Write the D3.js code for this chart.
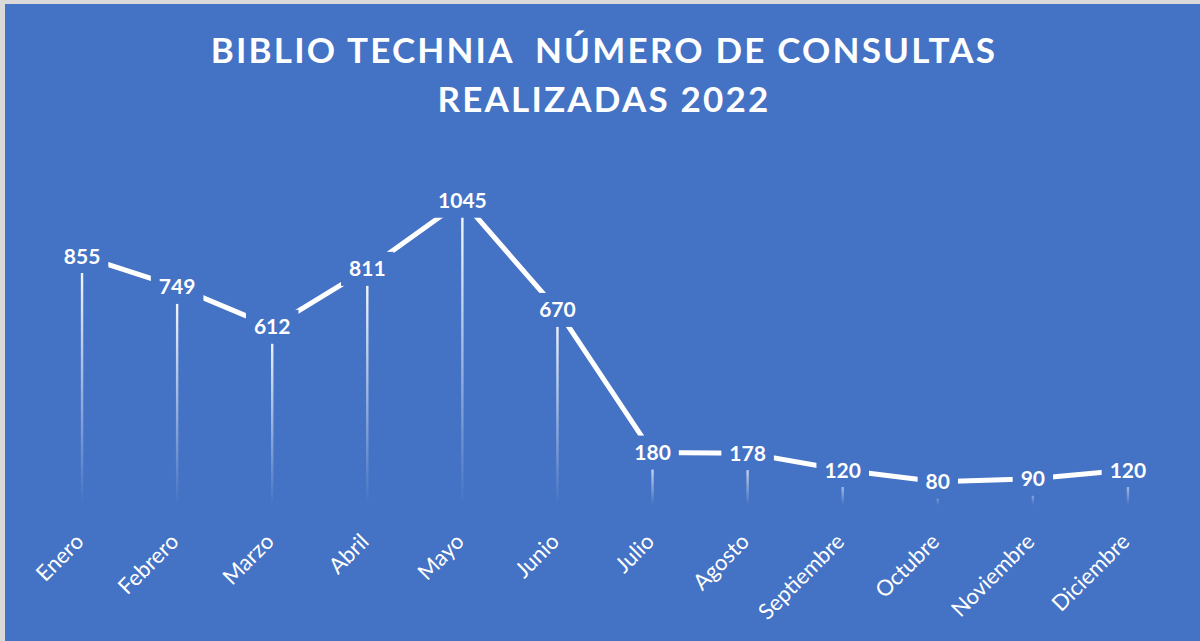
<!DOCTYPE html>
<html lang="es">
<head>
<meta charset="UTF-8">
<title>Biblio Technia consultas 2022</title>
<script src="https://cdn.jsdelivr.net/npm/d3@7"></script>
<style>
  body { margin: 0; background: #d9d9d9; }
  svg { display: block; }
</style>
</head>
<body>
<div id="chart"></div>
<script>
// datos
const months = ["Enero", "Febrero", "Marzo", "Abril", "Mayo", "Junio",
  "Julio", "Agosto", "Septiembre", "Octubre", "Noviembre", "Diciembre"];
const consultas = [855, 749, 612, 811, 1045, 670, 180, 178, 120, 80, 90, 120];
const titleLines = ["BIBLIO TECHNIA  NÚMERO DE CONSULTAS", "REALIZADAS 2022"];

const W = 1200, H = 641;
const bg = "#4472C4";
const font = "Lato, 'Open Sans', sans-serif";

const svg = d3.select("#chart").append("svg")
  .attr("width", W).attr("height", H);

// chart area with light border on the left/top
svg.append("rect").attr("x", 0).attr("y", 0).attr("width", W).attr("height", H)
  .attr("fill", "#d9d9d9");
svg.append("rect").attr("x", 5).attr("y", 4).attr("width", W - 5).attr("height", H - 4)
  .attr("fill", bg);

// title
svg.append("text")
  .attr("x", 604).attr("text-anchor", "middle")
  .attr("fill", "#fff")
  .style("font-family", font).style("font-weight", "bold")
  .style("font-size", "35px").style("letter-spacing", "2.2px")
  .style("white-space", "pre")
  .selectAll("tspan").data(titleLines).join("tspan")
  .attr("x", 604).attr("y", (d, i) => 63 + i * 49)
  .text(d => d);

const x = d3.scaleBand().domain(months).range([34.5, 1175.5]);
const y = d3.scaleLinear().domain([0, 1200]).range([505, 155.6]);
const cx = d => x(d) + x.bandwidth() / 2;

const data = months.map((m, i) => ({ m, v: consultas[i] }));

// gradient for drop lines
const grad = svg.append("defs").append("linearGradient")
  .attr("id", "drop").attr("x1", 0).attr("y1", 0).attr("x2", 0).attr("y2", 1)
  .attr("gradientUnits", "objectBoundingBox");
grad.append("stop").attr("offset", "0%").attr("stop-color", "#fff").attr("stop-opacity", 1);
grad.append("stop").attr("offset", "100%").attr("stop-color", "#fff").attr("stop-opacity", 0);

// drop lines (thin rects so the gradient works on vertical lines)
svg.append("g").selectAll("rect").data(data).join("rect")
  .attr("x", d => cx(d.m) - 1.2)
  .attr("y", d => y(d.v))
  .attr("width", 2.4)
  .attr("height", d => y(0) - y(d.v))
  .attr("fill", "url(#drop)");

// line
svg.append("path").datum(data)
  .attr("fill", "none").attr("stroke", "#fff").attr("stroke-width", 5)
  .attr("stroke-linejoin", "round")
  .attr("d", d3.line().x(d => cx(d.m)).y(d => y(d.v)));

// value labels with background box
const lab = svg.append("g").selectAll("g").data(data).join("g")
  .attr("transform", d => `translate(${cx(d.m)},${y(d.v)})`);
const labText = lab.append("text")
  .attr("text-anchor", "middle").attr("dy", "0.36em")
  .attr("fill", "#fff")
  .style("font-family", font).style("font-weight", "bold").style("font-size", "21px")
  .text(d => d.v);
labText.each(function () {
  const b = this.getBBox();
  d3.select(this.parentNode).insert("rect", "text")
    .attr("x", b.x - 8).attr("y", -17)
    .attr("width", b.width + 16).attr("height", 34)
    .attr("fill", bg);
});

// category axis labels
svg.append("g").selectAll("text").data(months).join("text")
  .attr("transform", d => `translate(${cx(d) + 3},${543}) rotate(-45)`)
  .attr("text-anchor", "end")
  .attr("fill", "#fff")
  .style("font-family", font).style("font-size", "22px")
  .text(d => d);
</script>
</body>
</html>
